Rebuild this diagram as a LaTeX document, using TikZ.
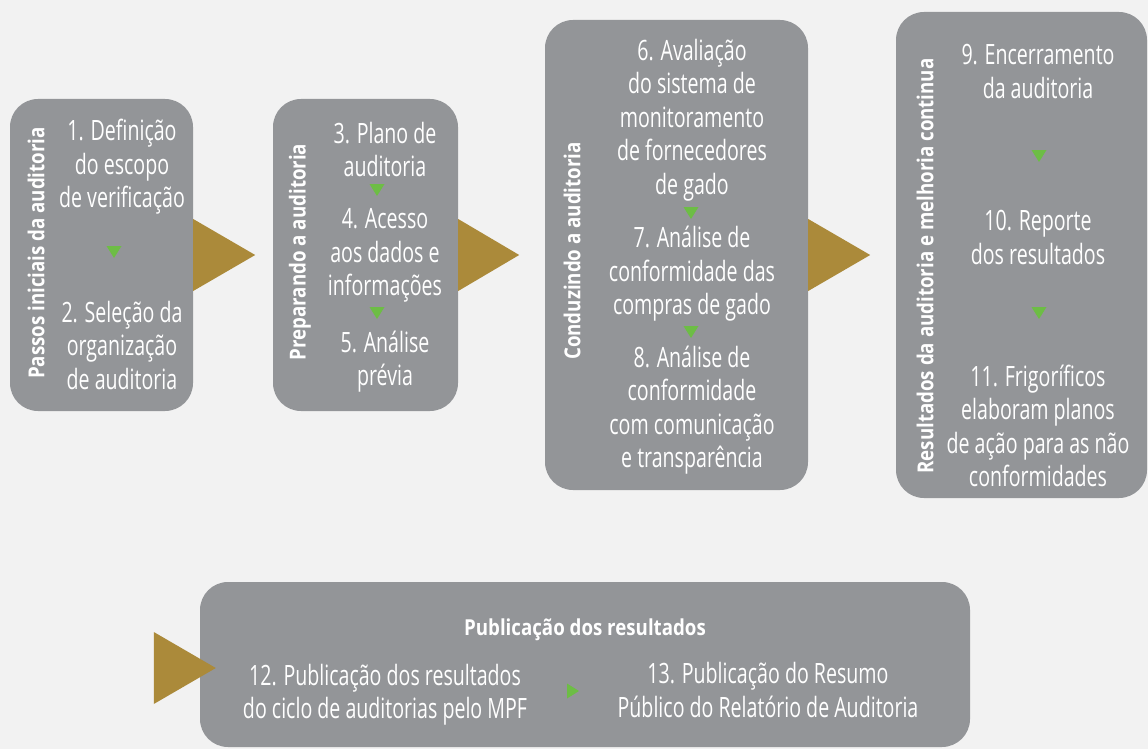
\documentclass[tikz,border=0pt]{standalone}
\usepackage{fontspec}
\usetikzlibrary{calc}
\newfontfamily\lightf{Open Sans}[FakeStretch=0.7]
\newfontfamily\boldf{Open Sans}[FakeStretch=0.85]
\definecolor{bgcol}{HTML}{F2F2F2}
\definecolor{boxcol}{HTML}{939598}
\definecolor{goldcol}{HTML}{AB8A3A}
\definecolor{greencol}{HTML}{6DBD45}
\tikzset{
  stagebox/.style={fill=boxcol, draw=none, rounded corners=28pt, inner sep=0pt},
  lighttxt/.style={text=white, align=center, inner sep=0pt, font=\lightf\fontsize{28}{33.5}\selectfont},
  vlabel/.style={text=white, inner sep=0pt, rotate=90, font=\boldf\bfseries\fontsize{22}{26}\selectfont},
  titletxt/.style={text=white, inner sep=0pt, font=\boldf\bfseries\fontsize{22}{26}\selectfont},
  goldtri/.style={fill=goldcol},
  greentri/.style={fill=greencol}
}
\newcommand\gdown[1]{\fill[greentri] ($(#1)+(-7.5,-6)$) -- ($(#1)+(7.5,-6)$) -- ($(#1)+(0,6)$) -- cycle;}
\newcommand\gright[1]{\fill[greentri] ($(#1)+(-6,-7.5)$) -- ($(#1)+(-6,7.5)$) -- ($(#1)+(6,0)$) -- cycle;}
\begin{document}
\begin{tikzpicture}[x=1pt,y=-1pt]
\fill[bgcol] (0,0) rectangle (1148,749);
\useasboundingbox (0,0) rectangle (1148,749);
% boxes
\node[stagebox, minimum width=183pt, minimum height=312pt] (b1) at (101.5,255) {};
\node[stagebox, minimum width=185pt, minimum height=312pt] (b2) at (365.5,255) {};
\node[stagebox, minimum width=263pt, minimum height=470pt] (b3) at (676.5,255) {};
\node[stagebox, minimum width=251pt, minimum height=486pt] (b4) at (1021.5,255) {};
\node[stagebox, minimum width=770pt, minimum height=165pt] (b5) at (585,664.5) {};
% gold arrows
\fill[goldtri] ($(b1.east)+(0,-36)$) -- ($(b1.east)+(0,36)$) -- ($(b1.east)+(62,0)$) -- cycle;
\fill[goldtri] ($(b2.east)+(0,-36)$) -- ($(b2.east)+(0,36)$) -- ($(b2.east)+(61,0)$) -- cycle;
\fill[goldtri] ($(b3.east)+(0,-36)$) -- ($(b3.east)+(0,36)$) -- ($(b3.east)+(62,0)$) -- cycle;
\coordinate (t4tip) at ($(b5.west)+(16,3.5)$);
\fill[goldtri] ($(t4tip)+(-62,-36)$) -- ($(t4tip)+(-62,36)$) -- (t4tip) -- cycle;
% vertical labels
\node[vlabel] (l1) at (36,253) {Passos iniciais da auditoria};
\node[vlabel] (l2) at (300,252) {Preparando a auditoria};
\node[vlabel] (l3) at (572,251) {Conduzindo a auditoria};
\node[vlabel] (l4) at (925,266) {Resultados da auditoria e melhoria continua};
% box 1
\node[lighttxt] (s1) at (122,167) {1. Definição\\do escopo\\de verificação};
\node[lighttxt] (s2) at (122,345) {2. Seleção da\\organização\\de auditoria};
\coordinate (g1) at (114,252); \gdown{g1}
% box 2
\node[lighttxt] (s3) at (385,149.5) {3. Plano de\\auditoria};
\node[lighttxt] (s4) at (385,255.7) {4. Acesso\\aos dados e\\informações};
\node[lighttxt] (s5) at (385,361.5) {5. Análise\\prévia};
\coordinate (g2) at (377,190); \gdown{g2}
\coordinate (g3) at (377,313); \gdown{g3}
% box 3
\node[lighttxt] (s6) at (692,120) {6. Avaliação\\do sistema de\\monitoramento\\de fornecedores\\de gado};
\node[lighttxt] (s7) at (692,274) {7. Análise de\\conformidade das\\compras de gado};
\node[lighttxt] (s8) at (692,410) {8. Análise de\\conformidade\\com comunicação\\e transparência};
\coordinate (g4) at (691,213); \gdown{g4}
\coordinate (g5) at (691,332); \gdown{g5}
% box 4
\node[lighttxt] (s9) at (1038,71.5) {9. Encerramento\\da auditoria};
\node[lighttxt] (s10) at (1038,237.5) {10. Reporte\\dos resultados};
\node[lighttxt] (s11) at (1038,426) {11. Frigoríficos\\elaboram planos\\de ação para as não\\conformidades};
\coordinate (g6) at (1039,156); \gdown{g6}
\coordinate (g7) at (1039,313); \gdown{g7}
% box 5
\node[titletxt] (t5) at (585,630) {Publicação dos resultados};
\node[lighttxt] (s12) at (385,694.5) {12. Publicação dos resultados\\do ciclo de auditorias pelo MPF};
\node[lighttxt] (s13) at (768,690) {13. Publicação do Resumo\\Público do Relatório de Auditoria};
\coordinate (g8) at (573,691); \gright{g8}
\end{tikzpicture}
\end{document}
